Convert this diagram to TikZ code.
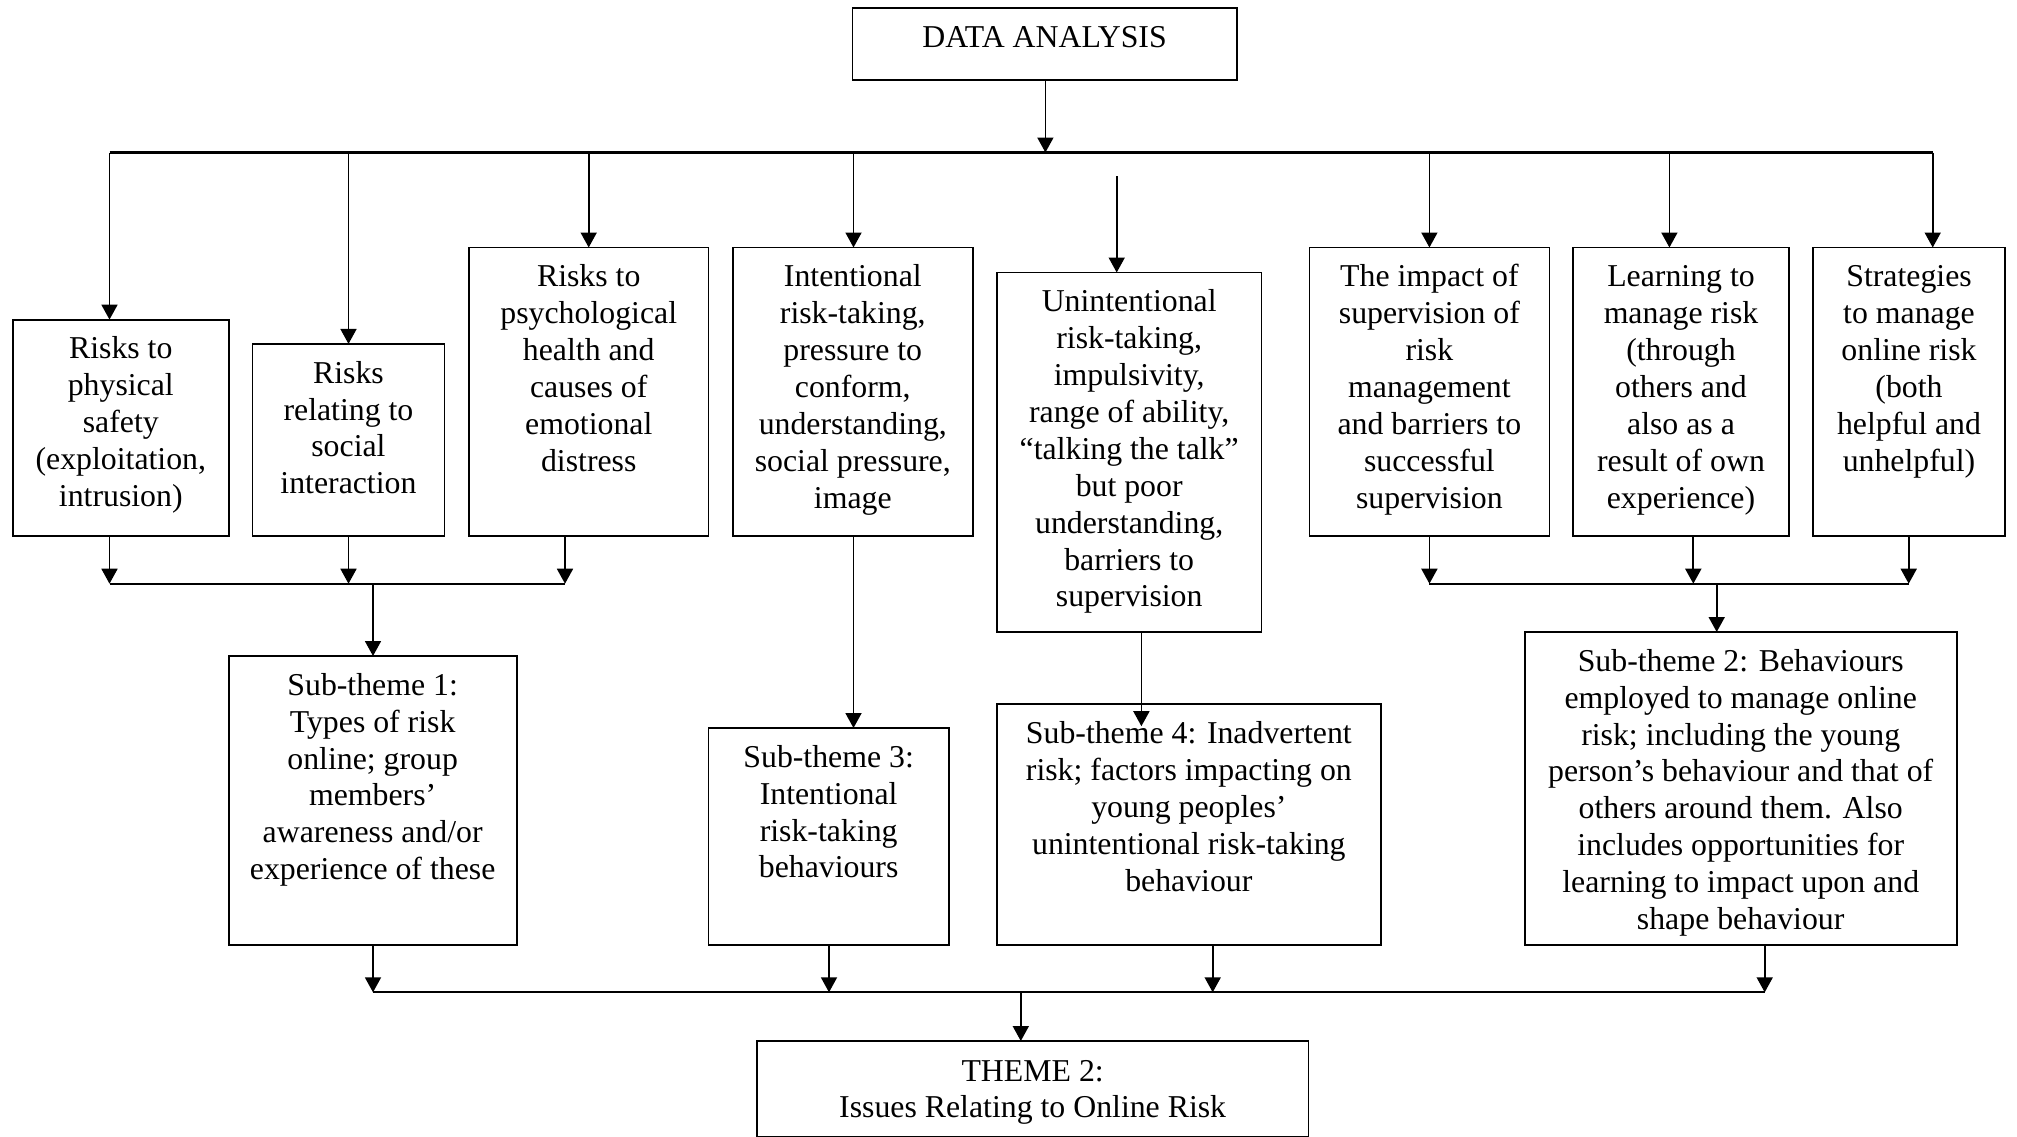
\documentclass[tikz,border=0pt]{standalone}
\usepackage{fontspec}
\setmainfont{Liberation Serif}
\usetikzlibrary{arrows.meta,fit}
\newcommand{\bt}[1]{\parbox[t]{12cm}{\centering\fontsize{15.9pt}{18.45pt}\selectfont #1}}
\tikzset{
  box/.style={draw, line width=0.9pt, inner sep=0pt, outer sep=0pt},
  txt/.style={anchor=base, inner sep=0pt, outer sep=0pt},
  conn/.style={line width=0.9pt},
  arr/.style={line width=0.9pt, -{Triangle[width=8pt,length=7.5pt]}},
  bigbus/.style={line width=1.5pt},
}
\begin{document}
\begin{tikzpicture}[x=0.5pt,y=-0.5pt]
\useasboundingbox (0,0) rectangle (2017,1136);
% boxes
\node[box, fit={(852.5,8) (1236.7,80)}] (data) {};
\node[box, fit={(12.9,319.6) (228.7,536)}] (b1) {};
\node[box, fit={(252.5,343.9) (444.4,536)}] (b2) {};
\node[box, fit={(469,247.5) (708.5,536)}] (b3) {};
\node[box, fit={(733,247.5) (972.6,536)}] (b4) {};
\node[box, fit={(997,272.5) (1261.4,632)}] (b5) {};
\node[box, fit={(1309.4,247.5) (1549.4,536)}] (b6) {};
\node[box, fit={(1572.7,247.5) (1789.3,536)}] (b7) {};
\node[box, fit={(1812.7,247.5) (2005.3,536)}] (b8) {};
\node[box, fit={(228.7,656) (516.6,944.8)}] (s1) {};
\node[box, fit={(708.5,728) (948.8,944.8)}] (s3) {};
\node[box, fit={(997,704.2) (1380.7,944.8)}] (s4) {};
\node[box, fit={(1524.7,632) (1956.7,944.8)}] (s2) {};
\node[box, fit={(756.8,1041) (1308.5,1137.2)}] (th) {};
% texts
\node[txt] (tdata) at ([yshift=-19.75pt]data.north) {\bt{DATA ANALYSIS}};
\node[txt] (t1) at ([yshift=-19.6pt]b1.north) {\bt{Risks to\\physical\\safety\\(exploitation,\\intrusion)}};
\node[txt] (t2) at ([yshift=-19.6pt]b2.north) {\bt{Risks\\relating to\\social\\interaction}};
\node[txt] (t3) at ([yshift=-19.6pt]b3.north) {\bt{Risks to\\psychological\\health and\\causes of\\emotional\\distress}};
\node[txt] (t4) at ([yshift=-19.6pt]b4.north) {\bt{Intentional\\risk-taking,\\pressure to\\conform,\\understanding,\\social pressure,\\image}};
\node[txt] (t5) at ([yshift=-19.6pt]b5.north) {\bt{Unintentional\\risk-taking,\\impulsivity,\\range of ability,\\“talking the talk”\\but poor\\understanding,\\barriers to\\supervision}};
\node[txt] (t6) at ([yshift=-19.6pt]b6.north) {\bt{The impact of\\supervision of\\risk\\management\\and barriers to\\successful\\supervision}};
\node[txt] (t7) at ([yshift=-19.6pt]b7.north) {\bt{Learning to\\manage risk\\(through\\others and\\also as a\\result of own\\experience)}};
\node[txt] (t8) at ([yshift=-19.6pt]b8.north) {\bt{Strategies\\to manage\\online risk\\(both\\helpful and\\unhelpful)}};
\node[txt] (ts1) at ([yshift=-19.6pt]s1.north) {\bt{Sub-theme 1:\\Types of risk\\online; group\\members’\\awareness and/or\\experience of these}};
\node[txt] (ts3) at ([yshift=-19.6pt]s3.north) {\bt{Sub-theme 3:\\Intentional\\risk-taking\\behaviours}};
\node[txt] (ts4) at ([yshift=-19.6pt]s4.north) {\bt{Sub-theme 4: Inadvertent\\risk; factors impacting on\\young peoples’\\unintentional risk-taking\\behaviour}};
\node[txt] (ts2) at ([yshift=-19.6pt]s2.north) {\bt{Sub-theme 2: Behaviours\\employed to manage online\\risk; including the young\\person’s behaviour and that of\\others around them. Also\\includes opportunities for\\learning to impact upon and\\shape behaviour}};
\node[txt] (tth) at ([yshift=-20pt]th.north) {\bt{THEME 2:\\Issues Relating to Online Risk}};
% top bus
\coordinate (tl) at (109.5,152.5);
\coordinate (tr) at (1932.7,152.5);
\coordinate (td) at (1045.4,152.5);
\coordinate (d1) at (109.5,152.5);
\coordinate (d2) at (348.5,152.5);
\coordinate (d3) at (588.7,152.5);
\coordinate (d4) at (853.5,152.5);
\coordinate (d6) at (1429.4,152.5);
\coordinate (d7) at (1669.4,152.5);
\coordinate (d8) at (1932.7,152.5);
\coordinate (u5) at (1116.7,176);
\draw[arr] (data.south -| td) -- (td);
\draw[bigbus] (tl) -- (tr);
\draw[arr] (d1) -- (d1 |- b1.north);
\draw[arr] (d2) -- (d2 |- b2.north);
\draw[arr] (d3) -- (d3 |- b3.north);
\draw[arr] (d4) -- (d4 |- b4.north);
\draw[arr] (d6) -- (d6 |- b6.north);
\draw[arr] (d7) -- (d7 |- b7.north);
\draw[arr] (d8) -- (d8 |- b8.north);
\draw[arr] (u5) -- (u5 |- b5.north);
% left merge
\coordinate (ml1) at (109.5,583.7);
\coordinate (ml2) at (348.5,583.7);
\coordinate (ml3) at (565,583.7);
\coordinate (ms1) at (373,583.7);
\draw[arr] (b1.south -| ml1) -- (ml1);
\draw[arr] (b2.south -| ml2) -- (ml2);
\draw[arr] (b3.south -| ml3) -- (ml3);
\draw[conn] (ml1) -- (ml3);
\draw[arr] (ms1) -- (ms1 |- s1.north);
% right merge
\coordinate (mr1) at (1429.4,583.7);
\coordinate (mr2) at (1693.3,583.7);
\coordinate (mr3) at (1908.7,583.7);
\coordinate (ms2) at (1716.7,583.7);
\draw[arr] (b6.south -| mr1) -- (mr1);
\draw[arr] (b7.south -| mr2) -- (mr2);
\draw[arr] (b8.south -| mr3) -- (mr3);
\draw[conn] (mr1) -- (mr3);
\draw[arr] (ms2) -- (ms2 |- s2.north);
% middle
\coordinate (c5) at (1141.4,650);
\draw[arr] (b4.south -| d4) -- (d4 |- s3.north);
\draw[arr, shorten >=-11pt] (b5.south -| c5) -- (c5 |- s4.north);
% bottom bus
\coordinate (bb1) at (373,992.3);
\coordinate (bb3) at (829,992.3);
\coordinate (bb4) at (1212.7,992.3);
\coordinate (bb2) at (1764.7,992.3);
\coordinate (bth) at (1020.8,992.3);
\draw[arr] (s1.south -| bb1) -- (bb1);
\draw[arr] (s3.south -| bb3) -- (bb3);
\draw[arr] (s4.south -| bb4) -- (bb4);
\draw[arr] (s2.south -| bb2) -- (bb2);
\draw[conn] (bb1) -- (bb2);
\draw[arr] (bth) -- (bth |- th.north);
\end{tikzpicture}
\end{document}
